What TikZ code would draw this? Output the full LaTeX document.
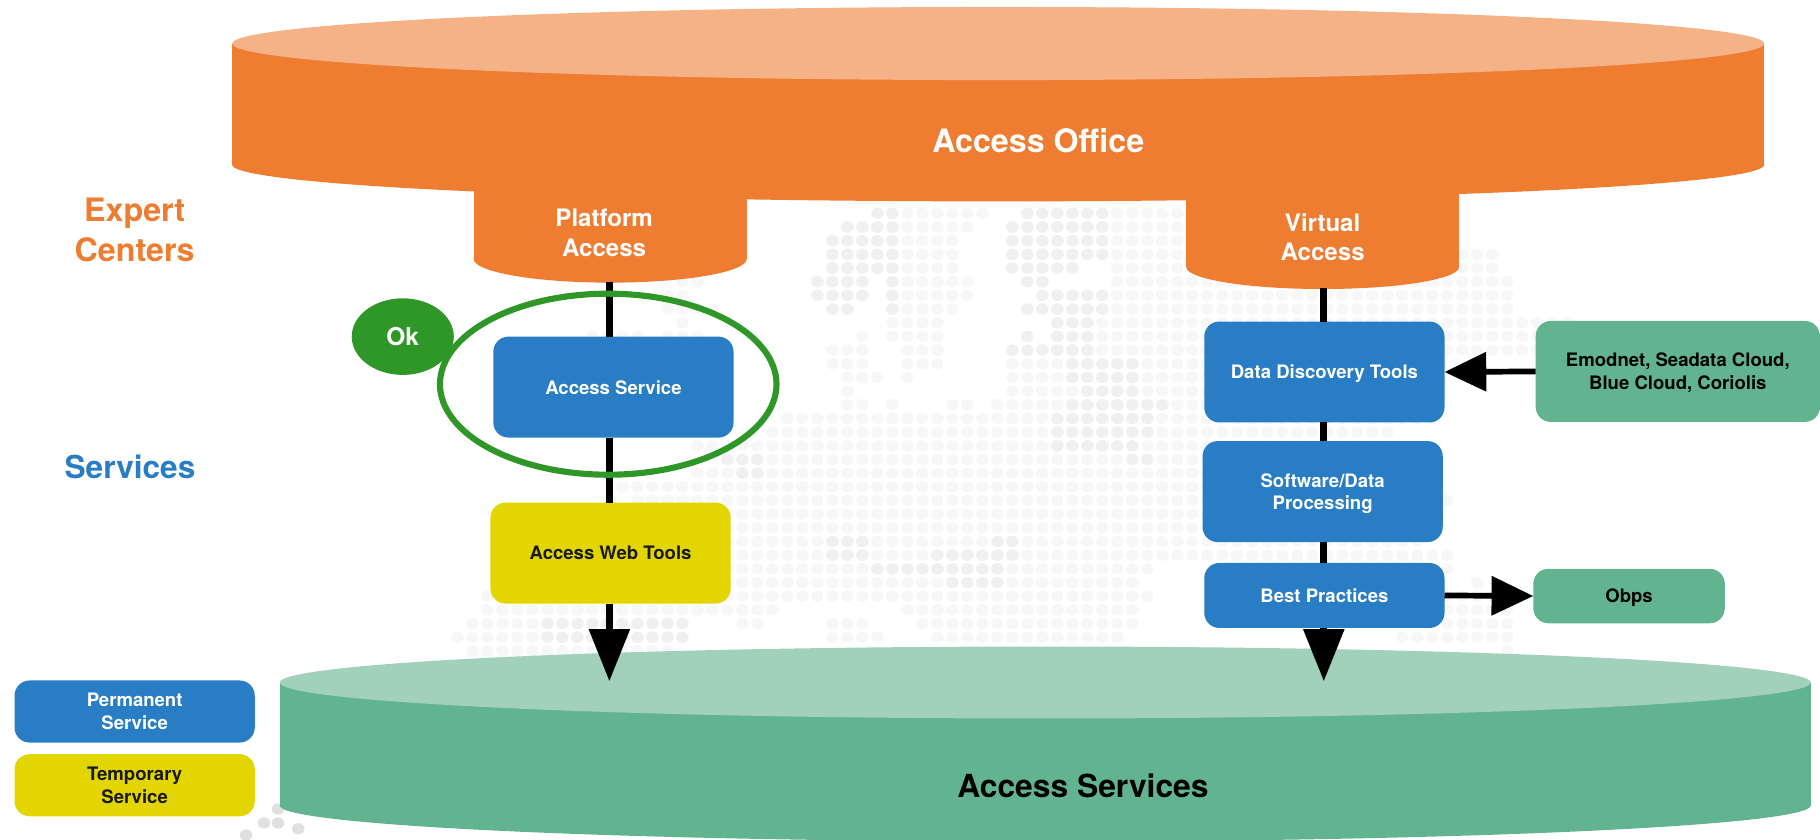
\documentclass[tikz,border=0pt]{standalone}
\usepackage{fontspec}
\setmainfont{TeX Gyre Heros}
\usetikzlibrary{arrows.meta,shapes.geometric}
\definecolor{orangeC}{HTML}{EE7D31}
\definecolor{orangeL}{HTML}{F5B286}
\definecolor{greenC}{HTML}{62B491}
\definecolor{greenL}{HTML}{A2D1BB}
\definecolor{blueC}{HTML}{287DC4}
\definecolor{yellowC}{HTML}{E3D600}
\definecolor{okC}{HTML}{2F9727}
\tikzset{
fnt/.style={font=\fontsize{#1}{1.22\dimexpr#1pt\relax}\selectfont\bfseries},
svcbox/.style={rounded corners=0.26cm,inner sep=0pt,outer sep=0pt,align=center,minimum width=4.14cm,minimum height=1.74cm,fill=blueC,text=white,fnt=9.1,text depth=-1pt},
legbox/.style={svcbox,minimum height=1.07cm},
tempbox/.style={fill=yellowC,text=black!90},
partbox/.style={fill=greenC,text=black},
link/.style={line width=3.6pt,black},
bigtip/.style={-{Triangle[length=0.9cm,width=0.68cm]}},
smalltip/.style={-{Triangle[length=0.72cm,width=0.66cm]}},
}
\begin{document}
\begin{tikzpicture}[x=0.02cm,y=-0.02cm]
\useasboundingbox(0,0)rectangle(1568,723);
\foreach \j/\ka/\kb in {0/4/11,0/14/24,1/2/10,1/13/24,2/1/9,2/13/24,3/1/9,3/13/45,4/1/9,4/13/17,4/20/45,
5/-9/-8,5/0/3,5/5/10,5/14/15,5/20/46,6/-10/-9,6/0/3,6/5/10,6/15/46,7/-10/-7,7/1/2,7/5/9,7/14/46,8/-9/-9,8/5/8,8/16/50,
9/-15/-12,9/-10/-8,9/3/3,9/5/8,9/14/14,9/16/50,10/1/3,10/6/8,10/13/48,11/1/3,11/6/8,11/13/41,12/2/4,12/6/6,12/13/41,
13/2/2,13/13/41,14/2/3,14/5/5,14/9/10,14/12/41,15/-2/41,16/-3/38,17/-8/-7,17/-5/38,18/-6/40,19/-8/40,20/-13/40,21/-12/40,21/42/42,
22/-6/40,23/-6/40,24/-6/40,25/-6/42,26/-6/22,26/42/42,27/-6/21,27/44/44,28/-22/22,28/42/46,29/-22/-3,29/6/21,29/42/46,
30/-23/-9,30/-5/-4,30/1/3,30/7/21,30/42/46,31/-24/-9,31/1/4,31/8/20,31/39/46,32/-23/-10,32/46/46}
\foreach \k in {\ka,...,\kb}\fill[black!3]({704.2+12.92*\k},{183.8+11.78*\j})ellipse[x radius=5.4,y radius=4.9];
\foreach \j/\ka/\kb in {0/4/5,1/2/5,2/1/5,3/1/5,4/1/5,5/0/3,5/5/5,6/0/3,6/5/5,7/1/2,7/5/5,0/14/19,1/13/19,2/13/19,3/13/19,4/13/17,
5/14/15,6/15/19,7/14/19,8/16/18,9/14/14,9/16/18,10/13/18,11/17/21,12/17/21,13/18/21,14/17/23,15/16/22,16/16/22,17/16/21,18/21/22,
18/-6/-4,19/-5/-4,24/1/3,24/12/13,25/1/3,25/8/13,26/4/12,27/9/12,30/-18/-9,31/-18/-9}
\foreach \k in {\ka,...,\kb}\fill[black!6]({704.2+12.92*\k},{183.8+11.78*\j})ellipse[x radius=5.4,y radius=4.9];
\foreach \x/\y in {239.5/697,227.5/709,239.5/709,257/714,212/719.5}
\fill[black!12](\x,\y)ellipse[x radius=5.4,y radius=4.9];
\fill[greenC](241,588)rectangle(1560,694);
\fill[greenC](900.5,694)ellipse[x radius=659.5,y radius=31];
\fill[greenL](900.5,588)ellipse[x radius=659.5,y radius=31];
\fill[orangeC](408,150)rectangle(643.5,223);
\fill[orangeC](525.7,223)ellipse[x radius=117.7,y radius=20.5];
\fill[orangeC](1022,150)rectangle(1257,230);
\fill[orangeC](1139.5,230)ellipse[x radius=117.5,y radius=19];
\fill[orangeC](200,37.5)rectangle(1520,142);
\fill[orangeC](860,142)ellipse[x radius=660,y radius=31.5];
\fill[orangeL](860,37.5)ellipse[x radius=660,y radius=31.5];
\node[text=white,fnt=15.8](office)at(894.5,121){Access Office};
\node[text=white,fnt=11.8,align=center](platform)at(520.5,200.5){Platform\\Access};
\node[text=white,fnt=11.8,align=center](virtual)at(1139.5,204.5){Virtual\\Access};
\node[text=black,fnt=15.6](services)at(933,677){Access Services};
\node[text=orangeC,fnt=15.8,align=center](expert)at(116,198){Expert\\Centers};
\node[text=blueC,fnt=15.5](servlabel)at(112,402){Services};
\node[svcbox](access)at(528.5,333.5){Access Service};
\node[svcbox,tempbox](web)at(526,476.5){Access Web Tools};
\node[svcbox](data)at(1141,320.5){Data Discovery Tools};
\node[svcbox](soft)at(1139.5,423.5){Software/Data\\Processing};
\node[svcbox,minimum height=1.12cm](best)at(1141,513){Best Practices};
\node[svcbox,partbox,minimum width=4.9cm](emod)at(1445.5,320){Emodnet, Seadata Cloud,\\Blue Cloud, Coriolis};
\node[svcbox,partbox,minimum width=3.3cm,minimum height=0.94cm](obps)at(1403.5,513.5){Obps};
\node[legbox](perm)at(116,613){Permanent\\Service};
\node[legbox,tempbox](temp)at(116,676.5){Temporary\\Service};
\coordinate(pbot)at(525,243);
\coordinate(vbot)at(1140.5,248);
\coordinate(pend)at(525,587);
\coordinate(vend)at(1140.5,587);
\draw[link](pbot)--(pbot|-access.north);
\draw[link](pbot|-access.south)--(pbot|-web.north);
\draw[link,bigtip](pbot|-web.south)--(pend);
\draw[link](vbot)--(vbot|-data.north);
\draw[link](vbot|-data.south)--(vbot|-soft.north);
\draw[link](vbot|-soft.south)--(vbot|-best.north);
\draw[link,bigtip](vbot|-best.south)--(vend);
\draw[link,smalltip,line width=2.8pt](emod.west)--(data.east);
\draw[link,smalltip,line width=2.8pt](best.east)--(obps.west);
\node[ellipse,fill=okC,text=white,fnt=12,minimum width=1.76cm,minimum height=1.32cm,inner sep=0pt](ok)at(347,290){Ok};
\node[ellipse,draw=okC,line width=3pt,minimum width=5.8cm,minimum height=3.12cm,inner sep=0pt](ring)at(524,331){};
\end{tikzpicture}
\end{document}
